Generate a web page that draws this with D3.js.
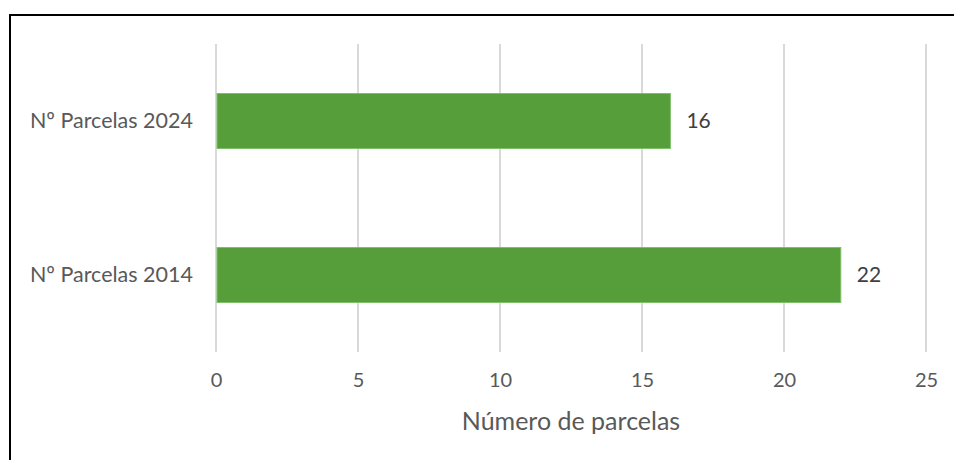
<!DOCTYPE html>
<html>
<head>
  <script src="https://d3js.org/d3.v7.min.js"></script>
  <style>
    body { margin: 0; background: #fff; }
    text { font-family: Lato, "Open Sans", sans-serif; }
    .axis text { fill: #595959; }
    .x.axis text { font-size: 20px; }
    .y.axis text { font-size: 21.5px; }
    .axis path, .axis line { display: none; }
    .grid line { stroke: #d9d9d9; stroke-width: 2; }
    .bar { fill: #559e3a; stroke: #7fbf6a; stroke-width: 1; }
    .value { font-size: 21px; fill: #404040; }
  </style>
</head>
<body>
  <svg class="chart" width="954" height="460"></svg>
  <script>
    // data
    var categories = ['Nº Parcelas 2024', 'Nº Parcelas 2014'];
    var values = [16, 22];
    var xTicks = [0, 5, 10, 15, 20, 25];
    var xTitle = 'Número de parcelas';

    var margin = { top: 44, right: 28, bottom: 108, left: 216 };
    var width = 954 - margin.left - margin.right;
    var height = 460 - margin.top - margin.bottom;

    var svg = d3.select('.chart');

    // outer frame (only top/left visible in the crop)
    svg.append('rect')
      .attr('x', 10).attr('y', 15)
      .attr('width', 1000).attr('height', 600)
      .attr('fill', 'none')
      .attr('stroke', '#000')
      .attr('stroke-width', 2);

    var chart = svg.append('g')
      .attr('transform', 'translate(' + margin.left + ',' + margin.top + ')');

    var xScale = d3.scaleLinear().domain([0, 25]).range([0, width]);
    var yScale = d3.scaleBand()
      .domain(categories)
      .range([0, height])
      .paddingInner(0.643)
      .paddingOuter(0.3215);

    chart.append('g')
      .attr('class', 'grid')
      .selectAll('line')
      .data(xTicks)
      .enter()
      .append('line')
      .attr('x1', function (d) { return xScale(d); })
      .attr('x2', function (d) { return xScale(d); })
      .attr('y1', 0)
      .attr('y2', height);

    var data = categories.map(function (c, i) { return { name: c, value: values[i] }; });

    chart.selectAll('.bar')
      .data(data)
      .enter()
      .append('rect')
      .attr('class', 'bar')
      .attr('x', xScale(0) + 1)
      .attr('y', function (d) { return yScale(d.name); })
      .attr('width', function (d) { return xScale(d.value) - xScale(0) - 1; })
      .attr('height', yScale.bandwidth());

    chart.selectAll('.value')
      .data(data)
      .enter()
      .append('text')
      .attr('class', 'value')
      .attr('x', function (d) { return xScale(d.value) + 16; })
      .attr('y', function (d) { return yScale(d.name) + yScale.bandwidth() / 2; })
      .attr('dy', '0.35em')
      .text(function (d) { return d.value; });

    chart.append('g')
      .attr('class', 'x axis')
      .attr('transform', 'translate(0,' + height + ')')
      .call(d3.axisBottom(xScale).tickValues(xTicks).tickSize(0).tickPadding(21));

    chart.append('g')
      .attr('class', 'y axis')
      .call(d3.axisLeft(yScale).tickSize(0).tickPadding(23));

    chart.append('text')
      .attr('x', width / 2)
      .attr('y', height + 78)
      .attr('text-anchor', 'middle')
      .style('font-size', '25px')
      .style('fill', '#595959')
      .text(xTitle);
  </script>
</body>
</html>
